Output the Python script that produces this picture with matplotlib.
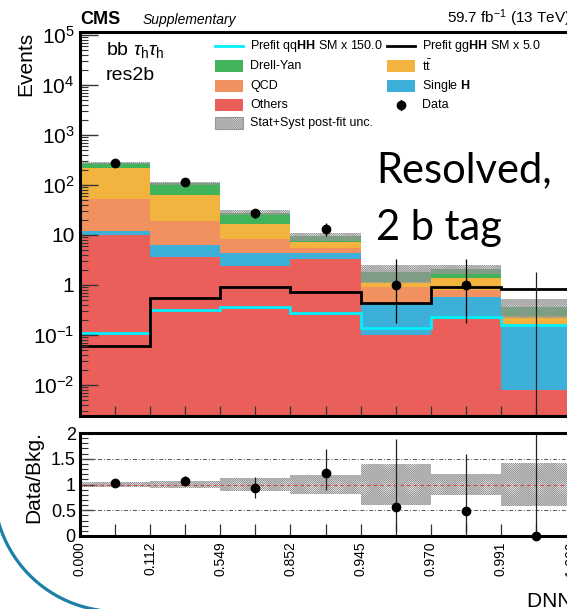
import numpy as np
import matplotlib
matplotlib.use('Agg')
import matplotlib.pyplot as plt
from matplotlib.patches import Rectangle
from matplotlib.ticker import FixedLocator, FixedFormatter, LogLocator, NullFormatter, MultipleLocator

plt.rcParams['font.family'] = ['Liberation Sans', 'DejaVu Sans']
plt.rcParams['mathtext.fontset'] = 'custom'
plt.rcParams['mathtext.rm'] = 'Liberation Sans'
plt.rcParams['mathtext.it'] = 'Liberation Sans:italic'
plt.rcParams['mathtext.bf'] = 'Liberation Sans:bold'
plt.rcParams['hatch.linewidth'] = 0.4

# DNN score bin edges, every bin drawn with the same width
edge_labels = ['0.000', '0.112', '0.549', '0.852', '0.945', '0.970', '0.991', '1.000']
ytick_labels = ['$10^{-2}$', '$10^{-1}$', '1', '10', '$10^{2}$', '$10^{3}$', '$10^{4}$', '$10^{5}$']

# post-fit backgrounds per bin (stacked bottom to top)
others = [10.2, 3.7, 2.4, 3.3, 0.10, 0.21, 0.0079]
single_h = [1.6, 2.5, 1.9, 1.0, 0.32, 0.37, 0.134]
qcd = [41.0, 13.2, 3.9, 1.3, 0.51, 0.20, 0.005]
ttbar = [166.0, 42.6, 8.7, 1.75, 0.24, 0.62, 0.09]
drell_yan = [53.0, 46.0, 11.1, 2.1, 0.63, 0.66, 0.13]
bkg_unc = [0.04, 0.07, 0.12, 0.18, 0.39, 0.20, 0.41]  # relative stat+syst

# prefit signals
qqhh = [0.108, 0.31, 0.357, 0.28, 0.136, 0.225, 0.155]
gghh = [0.061, 0.55, 0.90, 0.74, 0.43, 0.93, 0.82]

# observed
data = [280, 113, 27, 13, 1, 1, 0]
data_err_lo = [16.2, 10.6, 5.2, 3.6, 0.83, 0.83, 0.0]
data_err_hi = [17.3, 11.7, 6.3, 4.7, 2.30, 2.30, 1.84]

ratio = [1.03, 1.06, 0.93, 1.23, 0.56, 0.48, 0.0]
ratio_err_lo = [0.06, 0.08, 0.19, 0.33, 0.47, 0.40, 0.0]
ratio_err_hi = [0.06, 0.10, 0.22, 0.45, 1.33, 1.12, 5.1]

W, H = 567, 609
fig = plt.figure(figsize=(W / 100, H / 100), dpi=100)

def box(x0, y0, x1, y1):
    return [x0 / W, 1 - y1 / H, (x1 - x0) / W, (y1 - y0) / H]

ax = fig.add_axes(box(80, 32, 571, 416))
rax = fig.add_axes(box(80, 433, 571, 536))

edges = np.arange(len(edge_labels))
centers = edges[:-1] + 0.5
ymin, ymax = 10 ** -2.62, 10 ** 5.06

colors = {'others': '#eb5f5b', 'single_h': '#3cb0d9', 'qcd': '#f0915f',
          'ttbar': '#f2b43e', 'dy': '#43b35b'}
layers = [(others, colors['others']), (single_h, colors['single_h']), (qcd, colors['qcd']),
          (ttbar, colors['ttbar']), (drell_yan, colors['dy'])]

base = np.full(len(centers), 1e-4)
cum = np.zeros(len(centers))
for vals, col in layers:
    cum = cum + np.array(vals)
    ax.stairs(cum, edges, baseline=base, fill=True, color=col, lw=0)
    base = cum.copy()
total = cum
unc = np.array(bkg_unc)

hatch = 'x' * 16
band_col = '#969696'
ax.stairs(total * (1 + unc), edges, baseline=total * (1 - unc), fill=True,
          facecolor='none', edgecolor=band_col, hatch=hatch, lw=0)

ax.stairs(qqhh, edges, baseline=1e-4, color='#00f0ff', lw=2.0)
ax.stairs(gghh, edges, baseline=None, color='black', lw=2.0)

data = np.array(data, dtype=float)
nz = data > 0
ax.errorbar(centers[nz], data[nz], yerr=[np.array(data_err_lo)[nz], np.array(data_err_hi)[nz]],
            fmt='o', ms=6, color='black', elinewidth=0.9, capsize=0)
ax.vlines(centers[~nz], ymin, np.array(data_err_hi)[~nz], color='#222222', lw=0.9)

ax.set_yscale('log')
ax.set_xlim(0, len(centers))
ax.set_ylim(ymin, ymax)
ax.yaxis.set_major_locator(FixedLocator(10.0 ** np.arange(-2, 6)))
ax.yaxis.set_major_formatter(FixedFormatter(ytick_labels))
ax.yaxis.set_minor_locator(LogLocator(base=10, subs=np.arange(2, 10), numticks=30))
ax.yaxis.set_minor_formatter(NullFormatter())
ax.tick_params(axis='y', which='major', direction='in', length=13, width=1, labelsize=15, pad=4, color='#333333')
ax.tick_params(axis='y', which='minor', direction='in', length=6, width=0.8, color='#333333')
ax.set_xticks(edges)
ax.set_xticks(centers, minor=True)
ax.tick_params(axis='x', which='both', direction='in', length=7, width=0.9, labelbottom=False, color='#333333')

# ratio panel
rax.stairs(1 + unc, edges, baseline=1 - unc, fill=True,
           facecolor='none', edgecolor=band_col, hatch=hatch, lw=0)
rax.axhline(1.0, color='#e03c3c', lw=0.8, ls=(0, (3, 3)))
for lvl in (0.5, 1.5):
    rax.axhline(lvl, color='#555555', lw=0.7, ls=(0, (4, 2, 1, 2)))
rax.errorbar(centers, ratio, yerr=[ratio_err_lo, ratio_err_hi], fmt='none',
             ecolor='#222222', elinewidth=0.9, capsize=0)
rax.plot(centers, ratio, 'o', ms=6, color='black', clip_on=False, zorder=5)

rax.set_xlim(0, len(centers))
rax.set_ylim(0, 2)
rax.set_yticks([0, 0.5, 1, 1.5, 2], ['0', '0.5', '1', '1.5', '2'])
rax.yaxis.set_minor_locator(MultipleLocator(0.1))
rax.tick_params(axis='y', which='major', direction='in', length=10, width=1, labelsize=13, pad=3, color='#333333')
rax.tick_params(axis='y', which='minor', direction='in', length=6, width=0.8, color='#333333')
rax.set_xticks(edges, edge_labels, rotation=90)
rax.set_xticks(centers, minor=True)
rax.tick_params(axis='x', which='both', direction='in', length=9, width=0.9, labelsize=10, pad=4, color='#333333')

for a in (ax, rax):
    for side in a.spines.values():
        side.set_linewidth(2.2)

# annotations in pixel coordinates
ov = fig.add_axes([0, 0, 1, 1], zorder=10)
ov.set_xlim(0, W)
ov.set_ylim(H, 0)
ov.axis('off')
ov.patch.set_visible(False)

ov.text(80, 24, 'CMS', fontsize=13, weight='bold', va='baseline')
ov.text(143, 24, 'Supplementary', fontsize=10, style='italic', va='baseline')
ov.text(447, 23, '59.7 fb$^{-1}$ (13 TeV)', fontsize=11, va='baseline')
ov.text(106, 55, r'bb $\tau_{\mathrm{h}}\tau_{\mathrm{h}}$', fontsize=14, va='baseline')
ov.text(106, 80, 'res2b', fontsize=14, va='baseline')
ov.text(26, 32, 'Events', rotation=90, ha='center', va='top', fontsize=15)
ov.text(34, 431, 'Data/Bkg.', rotation=90, ha='center', va='top', fontsize=15)
ov.text(527, 607, 'DNN output', fontsize=15, va='baseline')

# legend
rows = [46, 66, 85.7, 105, 123.3]
col1 = [('line', '#00f0ff', r'Prefit qq$\mathbf{HH}$ SM x 150.0'),
        ('box', colors['dy'], 'Drell-Yan'),
        ('box', colors['qcd'], 'QCD'),
        ('box', colors['others'], 'Others'),
        ('hatch', None, 'Stat+Syst post-fit unc.')]
col2 = [('line', 'black', r'Prefit gg$\mathbf{HH}$ SM x 5.0'),
        ('box', colors['ttbar'], r't$\bar{\mathrm{t}}$'),
        ('box', colors['single_h'], r'Single $\mathbf{H}$'),
        ('data', 'black', 'Data')]
for x0, entries in ((215, col1), (387, col2)):
    for yc, (kind, col, label) in zip(rows, entries):
        if kind == 'line':
            ov.plot([x0, x0 + 28], [yc, yc], color=col, lw=2.0)
        elif kind == 'box':
            ov.add_patch(Rectangle((x0, yc - 6), 28, 12, facecolor=col, lw=0))
        elif kind == 'hatch':
            ov.add_patch(Rectangle((x0, yc - 6), 28, 12, facecolor='white', edgecolor=band_col,
                                   hatch=hatch, lw=0.8))
        else:
            ov.plot([x0 + 14, x0 + 14], [yc - 5, yc + 5], color=col, lw=0.9)
            ov.plot(x0 + 14, yc, 'o', ms=6, color=col)
        ov.text(x0 + 35, yc, label, fontsize=9, va='center')

ov.text(376, 182, 'Resolved,', fontsize=30, family=['Lato', 'DejaVu Sans'], va='baseline')
ov.text(376, 240, '2 b tag', fontsize=30, family=['Lato', 'DejaVu Sans'], va='baseline')

# decorative arc in the lower-left corner
t = np.radians(np.linspace(92, 170, 200))
ov.plot(116.6 + 122.7 * np.cos(t), 488.7 + 122.7 * np.sin(t), color='#1b7fa6', lw=2.3)

fig.savefig('out.png', dpi=100)
